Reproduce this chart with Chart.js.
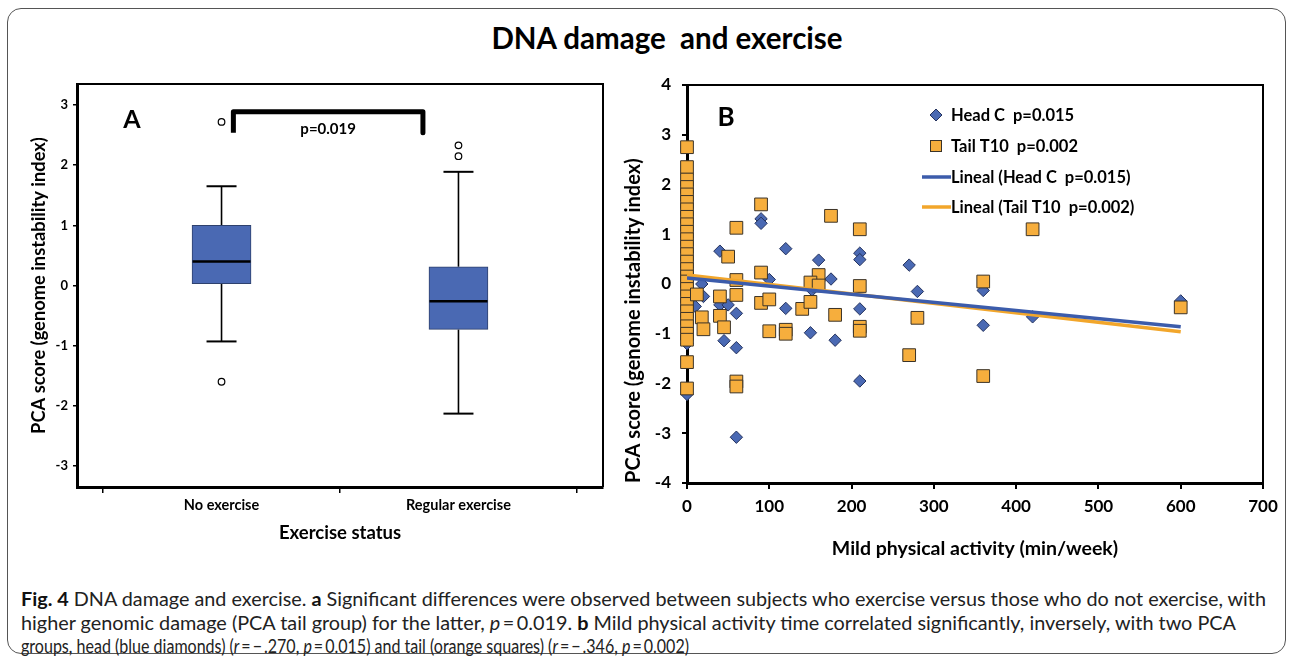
<!DOCTYPE html>
<html><head><meta charset="utf-8">
<script src="https://cdn.jsdelivr.net/npm/chart.js@4.4.1/dist/chart.umd.min.js"></script>
<style>
html,body{margin:0;padding:0;background:#fff;width:1292px;height:658px;overflow:hidden;font-family:Lato,sans-serif;}
#frame{position:absolute;left:7px;top:8px;width:1277px;height:644px;border:1.5px solid #555;border-radius:14px;}
#title{position:absolute;left:0;width:1334px;top:20px;line-height:36px;text-align:center;font-weight:bold;font-size:29.5px;font-family:Lato;white-space:pre;color:#000;}
canvas{position:absolute;}
#cA{left:0;top:0}
#cB{left:610px;top:0}
.cl{position:absolute;left:21px;white-space:nowrap;transform-origin:0 0;display:inline-block;font-family:Lato;font-size:18.5px;line-height:23px;color:#222;}
.cl b{font-weight:bold;color:#111}
</style></head>
<body>
<div id="frame"></div>
<div id="title">DNA damage  and exercise</div>
<canvas id="cA" width="640" height="560"></canvas>
<canvas id="cB" width="682" height="580"></canvas>
<span class="cl" id="l1" style="top:588px"><b>Fig. 4</b> DNA damage and exercise. <b>a</b> Significant differences were observed between subjects who exercise versus those who do not exercise, with</span>
<span class="cl" id="l2" style="top:612px">higher genomic damage (PCA tail group) for the latter, <i>p</i>&#8201;=&#8201;0.019. <b>b</b> Mild physical activity time correlated significantly, inversely, with two PCA</span>
<span class="cl" id="l3" style="top:635px">groups, head (blue diamonds) (<i>r</i>&#8201;=&#8201;−&#8201;.270, <i>p</i>&#8201;=&#8201;0.015) and tail (orange squares) (<i>r</i>&#8201;=&#8201;−&#8201;.346, <i>p</i>&#8201;=&#8201;0.002)</span>
<script>
// ---------- Panel A data ----------
const categories = ['No exercise', 'Regular exercise'];
const boxQ1 = [0.03, -0.73];
const boxMedian = [0.40, -0.26];
const boxQ3 = [1.00, 0.31];
const whiskerLow = [-0.93, -2.13];
const whiskerHigh = [1.65, 1.89];
const outliersNoExercise = [2.72, -1.60];
const outliersRegular = [2.33, 2.15];
const yTicksA = [-3, -2, -1, 0, 1, 2, 3];
const bracketX = [1.05, 1.05, 1.85, 1.85];
const bracketY = [2.54, 2.89, 2.89, 2.54];
const pLabelA = 'p=0.019';

// ---------- Panel B data ----------
const headX = [0,0,0,0,0,0,0,0, 90,90,40,120,160,210,210,100,18,175,152,20,10,40,50,60,120,210,45,60,150,180,210,60,270,280,360,360,420,600];
const headY = [2.2,1.6,0.9,0.3,-0.3,-0.8,-1.2,-2.22, 1.31,1.22,0.66,0.71,0.48,0.62,0.49,0.09,0.0,0.1,-0.12,-0.25,-0.45,-0.42,-0.42,-0.59,-0.49,-0.5,-1.14,-1.28,-0.98,-1.13,-1.95,-3.08,0.38,-0.15,-0.13,-0.83,-0.66,-0.34];
const tailX = [0,0,0,0,0,0,0,0,0,0,0,0,0,0,0,0,0,0,0,0,0,0,0,0,0,0,0,
  90,60,175,210,50,90,60,160,150,160,210,12,40,60,90,100,40,140,150,180,18,20,45,100,120,120,210,210,60,60,420,360,280,270,360,600];
const tailY = [2.75,2.35,2.1,1.95,1.8,1.65,1.5,1.35,1.2,1.05,0.9,0.75,0.6,0.45,0.3,0.15,0.05,-0.1,-0.25,-0.4,-0.55,-0.7,-0.85,-1.0,-1.12,-1.57,-2.1,
  1.6,1.13,1.37,1.1,0.55,0.23,0.08,0.18,0.03,-0.03,-0.04,-0.21,-0.25,-0.22,-0.38,-0.31,-0.64,-0.5,-0.36,-0.62,-0.67,-0.91,-0.87,-0.95,-0.92,-1.0,-0.86,-0.94,-1.96,-2.06,1.1,0.05,-0.68,-1.43,-1.85,-0.47];
const trendX = [0, 600];
const headTrendY = [0.12, -0.86];
const tailTrendY = [0.18, -0.96];
const xTicksB = [0, 100, 200, 300, 400, 500, 600, 700];
const yTicksB = [-4, -3, -2, -1, 0, 1, 2, 3, 4];
const legendLabels = ['Head C  p=0.015', 'Tail T10  p=0.002', 'Lineal (Head C  p=0.015)', 'Lineal (Tail T10  p=0.002)'];

const BLUE = '#4a69b3', BLUE_EDGE = '#25335e', ORANGE = '#f6ae3d', ORANGE_EDGE = '#3b3328';
const BLUE_LINE = '#3c5cab', ORANGE_LINE = '#f2a62b';
const F = (size, weight='bold') => ({family: 'Lato', size, weight});

// ---------- Panel A ----------
const whiskerData = [];
categories.forEach((c, i) => {
  whiskerData.push({x: i + 1, y: boxQ3[i]}, {x: i + 1, y: whiskerHigh[i]}, {x: i + 1, y: null},
                   {x: i + 1, y: boxQ1[i]}, {x: i + 1, y: whiskerLow[i]}, {x: i + 1, y: null});
});
const capData = [];
categories.forEach((c, i) => { capData.push({x: i + 1, y: whiskerHigh[i]}, {x: i + 1, y: whiskerLow[i]}); });
const outlierData = outliersNoExercise.map(v => ({x: 1, y: v})).concat(outliersRegular.map(v => ({x: 2, y: v})));

const frameA = {
  id: 'frameA',
  afterDraw(chart) {
    const {ctx, chartArea: a} = chart;
    ctx.save();
    ctx.strokeStyle = '#000'; ctx.lineWidth = 2;
    ctx.beginPath(); ctx.moveTo(a.left, a.top); ctx.lineTo(a.right, a.top); ctx.lineTo(a.right, a.bottom); ctx.stroke();
    const xs = chart.scales.x, ys = chart.scales.y;
    ctx.fillStyle = '#000';
    ctx.font = 'bold 25px Lato';
    ctx.textAlign = 'center'; ctx.textBaseline = 'middle';
    ctx.fillText('A', 132, 120);
    ctx.font = 'bold 15px Lato';
    const px = (xs.getPixelForValue(bracketX[0]) + xs.getPixelForValue(bracketX[2])) / 2;
    ctx.fillText(pLabelA, px, ys.getPixelForValue(bracketY[1]) + 17);
    ctx.restore();
  }
};

new Chart(document.getElementById('cA'), {
  type: 'bar',
  data: {
    datasets: [
      {type: 'line', label: 'bracket', data: bracketX.map((x, i) => ({x, y: bracketY[i]})), borderColor: '#000', borderWidth: 5,
       pointRadius: 0, borderJoinStyle: 'round', borderCapStyle: 'butt', order: 0, clip: false},
      {type: 'scatter', label: 'median', data: categories.map((c, i) => ({x: i + 1, y: boxMedian[i]})), pointStyle: 'line',
       pointRadius: 29, borderColor: '#000', borderWidth: 2.5, order: 1},
      {type: 'scatter', label: 'outliers', data: outlierData, pointStyle: 'circle', pointRadius: 3.3, borderWidth: 1.2,
       borderColor: '#000', backgroundColor: '#fff', order: 1},
      {type: 'scatter', label: 'caps', data: capData, pointStyle: 'line', pointRadius: 15, borderWidth: 2, borderColor: '#000', order: 2},
      {type: 'bar', label: 'box', data: categories.map((c, i) => ({x: i + 1, y: [boxQ1[i], boxQ3[i]]})), backgroundColor: BLUE,
       borderColor: '#2e416d', borderWidth: 1, barThickness: 59, borderSkipped: false, order: 3},
      {type: 'line', label: 'whiskers', data: whiskerData, borderColor: '#000', borderWidth: 1.6, pointRadius: 0, spanGaps: false, order: 4}
    ]
  },
  options: {
    responsive: false, animation: false, events: [],
    layout: {padding: {left: 0, top: 84, right: 37, bottom: 0}},
    plugins: {legend: {display: false}, tooltip: {enabled: false}},
    scales: {
      x: {type: 'linear', min: 0.39, max: 2.61, offset: false,
        afterBuildTicks: s => { s.ticks = categories.map((c, i) => ({value: i + 1})); },
        ticks: {callback: v => categories[v - 1], font: F(14.5), color: '#000', padding: 4, autoSkip: false, maxRotation: 0},
        grid: {drawOnChartArea: false, tickLength: 6, color: '#000', lineWidth: 1.5},
        border: {color: '#000', width: 3},
        title: {display: true, text: 'Exercise status', font: F(18.5), color: '#000', padding: {top: 0, bottom: 16}},
        afterFit: s => { s.height = 73; }
      },
      y: {min: -3.35, max: 3.35, beginAtZero: false,
        afterBuildTicks: s => { s.ticks = yTicksA.map(v => ({value: v})); },
        ticks: {callback: v => String(v), font: F(13), color: '#000', padding: 5},
        grid: {drawOnChartArea: false, tickLength: 4, color: '#000', lineWidth: 1.5},
        border: {color: '#000', width: 3},
        title: {display: true, text: 'PCA score (genome instability index)', font: F(18.3), color: '#000', padding: {top: 28, bottom: 0}},
        afterFit: s => { s.width = 77; }
      }
    }
  },
  plugins: [frameA]
});

// ---------- Panel B ----------
function drawDiamond(ctx, x, y, r, fill, edge) {
  ctx.beginPath(); ctx.moveTo(x - r, y); ctx.lineTo(x, y - r); ctx.lineTo(x + r, y); ctx.lineTo(x, y + r); ctx.closePath();
  ctx.fillStyle = fill; ctx.fill(); ctx.strokeStyle = edge; ctx.lineWidth = 1; ctx.stroke();
}
function drawSquare(ctx, x, y, s, fill, edge) {
  ctx.fillStyle = fill; ctx.fillRect(x - s / 2, y - s / 2, s, s);
  ctx.strokeStyle = edge; ctx.lineWidth = 1; ctx.strokeRect(x - s / 2, y - s / 2, s, s);
}
const frameB = {
  id: 'frameB',
  afterDraw(chart) {
    const {ctx, chartArea: a} = chart;
    ctx.save();
    ctx.strokeStyle = '#000'; ctx.lineWidth = 2;
    ctx.beginPath(); ctx.moveTo(a.left, a.top); ctx.lineTo(a.right, a.top); ctx.lineTo(a.right, a.bottom); ctx.stroke();
    ctx.fillStyle = '#000'; ctx.font = 'bold 26px Lato'; ctx.textAlign = 'center'; ctx.textBaseline = 'middle';
    ctx.fillText('B', 116, 118);
    // legend
    const rows = [115, 146, 177, 207];
    const mx = 326, tx = 341;
    drawDiamond(ctx, mx, rows[0], 6, BLUE, BLUE_EDGE);
    drawSquare(ctx, mx, rows[1], 11, ORANGE, ORANGE_EDGE);
    ctx.lineWidth = 3.5;
    ctx.strokeStyle = BLUE_LINE; ctx.beginPath(); ctx.moveTo(312, rows[2]); ctx.lineTo(341, rows[2]); ctx.stroke();
    ctx.strokeStyle = ORANGE_LINE; ctx.beginPath(); ctx.moveTo(312, rows[3]); ctx.lineTo(341, rows[3]); ctx.stroke();
    ctx.fillStyle = '#000'; ctx.font = 'bold 16.5px Lato'; ctx.textAlign = 'left';
    legendLabels.forEach((t, i) => ctx.fillText(t, tx, rows[i] + 1));
    ctx.restore();
  }
};

new Chart(document.getElementById('cB'), {
  type: 'scatter',
  data: {
    datasets: [
      {label: legendLabels[2], data: trendX.map((x, i) => ({x, y: headTrendY[i]})), showLine: true, borderColor: BLUE_LINE,
       borderWidth: 3.5, pointRadius: 0, order: 0},
      {label: legendLabels[3], data: trendX.map((x, i) => ({x, y: tailTrendY[i]})), showLine: true, borderColor: ORANGE_LINE,
       borderWidth: 3.5, pointRadius: 0, order: 0},
      {label: legendLabels[1], data: tailX.map((x, i) => ({x, y: tailY[i]})), pointStyle: 'rect', pointRadius: 9,
       backgroundColor: ORANGE, borderColor: ORANGE_EDGE, borderWidth: 1, order: 1, clip: false},
      {label: legendLabels[0], data: headX.map((x, i) => ({x, y: headY[i]})), pointStyle: 'rectRot', pointRadius: 6.2,
       backgroundColor: BLUE, borderColor: BLUE_EDGE, borderWidth: 1, order: 2, clip: false}
    ]
  },
  options: {
    responsive: false, animation: false, events: [],
    layout: {padding: {left: 0, top: 85, right: 29, bottom: 0}},
    plugins: {legend: {display: false}, tooltip: {enabled: false}},
    scales: {
      x: {type: 'linear', min: 0, max: 700,
        afterBuildTicks: s => { s.ticks = xTicksB.map(v => ({value: v})); },
        ticks: {callback: v => String(v), font: F(17), color: '#000', padding: 7, autoSkip: false, maxRotation: 0},
        grid: {drawOnChartArea: false, tickLength: 6, color: '#000', lineWidth: 2},
        border: {color: '#000', width: 3},
        title: {display: true, text: 'Mild physical activity (min/week)', font: F(19.5), color: '#000', padding: {top: 0, bottom: 20}},
        afterFit: s => { s.height = 97; }
      },
      y: {min: -4, max: 4,
        afterBuildTicks: s => { s.ticks = yTicksB.map(v => ({value: v})); },
        ticks: {callback: v => String(v), font: F(17), color: '#000', padding: 11},
        grid: {drawOnChartArea: false, tickLength: 5, color: '#000', lineWidth: 2},
        border: {color: '#000', width: 3},
        title: {display: true, text: 'PCA score (genome instability index)', align: 'start', font: F(20), color: '#000', padding: {top: 12, bottom: 0}},
        afterFit: s => { s.width = 77; }
      }
    }
  },
  plugins: [frameB]
});

// caption: squeeze each line to the width it has in the reference (condensed face)
const captionWidths = {l1: 1245, l2: 1215, l3: 668};
function fitCaption() {
  Object.keys(captionWidths).forEach(id => {
    const el = document.getElementById(id);
    el.style.transform = 'none';
    el.style.transform = 'scaleX(' + (captionWidths[id] / el.getBoundingClientRect().width) + ')';
  });
}
fitCaption();
if (document.fonts && document.fonts.ready) document.fonts.ready.then(fitCaption);
</script>
</body></html>
